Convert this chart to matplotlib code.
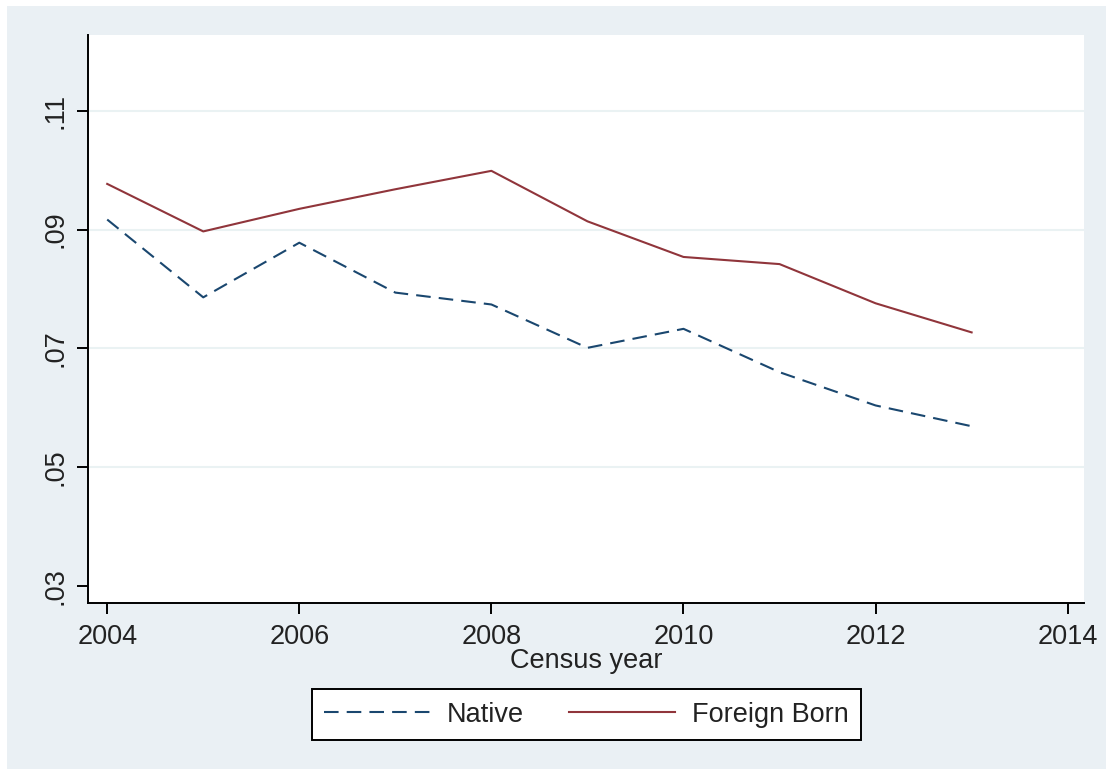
import matplotlib
matplotlib.use("Agg")
import matplotlib.pyplot as plt
from matplotlib.patches import Rectangle
from matplotlib.ticker import FixedLocator, FuncFormatter

years = [2004, 2005, 2006, 2007, 2008, 2009, 2010, 2011, 2012, 2013]
native = [0.0917, 0.0786, 0.0878, 0.0794, 0.0774, 0.0701, 0.0733, 0.0660, 0.0604, 0.0569]
foreign_born = [0.0977, 0.0897, 0.0935, 0.0968, 0.0999, 0.0914, 0.0854, 0.0842, 0.0776, 0.0727]
x_ticks = [2004, 2006, 2008, 2010, 2012, 2014]
y_ticks = [0.03, 0.05, 0.07, 0.09, 0.11]
grid_ticks = [0.05, 0.07, 0.09, 0.11]
series_labels = ["Native", "Foreign Born"]
x_title = "Census year"

plt.rcParams['font.family'] = ['Liberation Sans', 'DejaVu Sans']

W, H = 1106, 769
fig = plt.figure(figsize=(W / 100, H / 100), dpi=100)
fig.patch.set_facecolor('white')
bg = '#EAF0F4'
fig.patches.append(Rectangle((7 / W, 0), 1 - 7 / W, 1 - 6 / H, transform=fig.transFigure,
                             facecolor=bg, edgecolor='none', zorder=-10))

ax = fig.add_axes([88 / W, 1 - 603 / H, (1084 - 88) / W, (603 - 35) / H])
ax.set_facecolor('white')

ax.plot(years, native, color='#1A476F', lw=1.5, linestyle=(0, (7.0, 3.9)), label=series_labels[0])
ax.plot(years, foreign_born, color='#90353B', lw=1.5, linestyle='-', label=series_labels[1])

ax.set_xlim(2003.80, 2014.17)
ax.set_ylim(0.02714, 0.12277)

ax.xaxis.set_major_locator(FixedLocator(x_ticks))
ax.yaxis.set_major_locator(FixedLocator(y_ticks))
ax.yaxis.set_major_formatter(FuncFormatter(lambda v, p: ("%.2f" % v).lstrip('0')))
for g in grid_ticks:
    ax.axhline(g, color='#EAF2F3', lw=1.5, zorder=0)

for s in ['top', 'right']:
    ax.spines[s].set_visible(False)
for s in ['left', 'bottom']:
    ax.spines[s].set_linewidth(1.4)
    ax.spines[s].set_color('black')

ax.tick_params(axis='both', direction='out', length=8, width=1.4, colors='black',
               labelsize=19.5, labelcolor='#222222')
ax.tick_params(axis='x', pad=7)
ax.tick_params(axis='y', pad=6)
for lab in ax.get_yticklabels():
    lab.set_rotation(90)
    lab.set_va('center')

ax.set_xlabel(x_title, fontsize=19.5, color='#222222', labelpad=-1)

leg = fig.legend(loc='center', bbox_to_anchor=(586.5 / W, 1 - 714.5 / H), ncol=2,
                 fontsize=19.5, frameon=True, fancybox=False, handlelength=3.91,
                 columnspacing=1.66, handletextpad=0.63, borderpad=0.45,
                 framealpha=1.0, facecolor='white')
leg.get_frame().set_edgecolor('black')
leg.get_frame().set_linewidth(1.4)
for t in leg.get_texts():
    t.set_color('#222222')

fig.savefig('out.png', dpi=100, facecolor=fig.get_facecolor())
